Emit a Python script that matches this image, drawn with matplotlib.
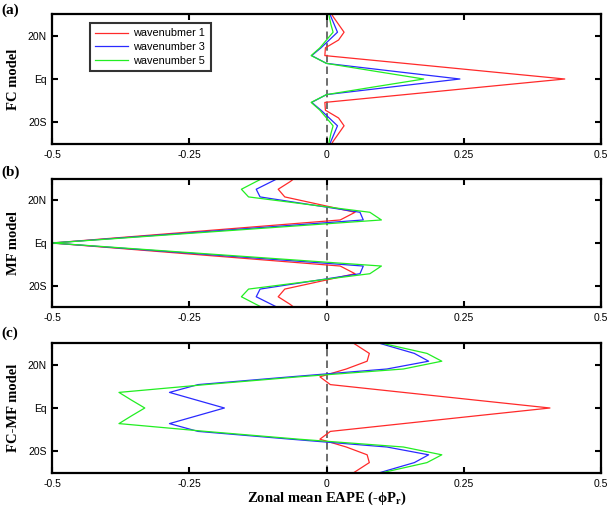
import matplotlib
matplotlib.use("Agg")
import matplotlib.pyplot as plt
import numpy as np

# latitude grid (deg, north positive)
lats = [32.4, 28.8, 25.2, 21.6, 18.0, 14.4, 10.8, 7.2, 3.6, 0.0,
        -3.6, -7.2, -10.8, -14.4, -18.0, -21.6, -25.2, -28.8, -32.4]

series_labels = ["wavenubmer 1", "wavenumber 3", "wavenumber 5"]
series_colors = ["#ff2a2a", "#2a2aff", "#22ee22"]

# (a) FC model
fc_wn1 = [0.004, 0.012, 0.022, 0.032, 0.022, -0.002, -0.003, 0.143, 0.288, 0.434,
          0.288, 0.143, -0.003, -0.002, 0.022, 0.032, 0.022, 0.012, 0.004]
fc_wn3 = [0.003, 0.008, 0.014, 0.020, 0.005, -0.010, -0.027, 0.000, 0.121, 0.243,
          0.121, 0.000, -0.027, -0.010, 0.005, 0.020, 0.014, 0.008, 0.003]
fc_wn5 = [0.002, 0.005, 0.008, 0.012, 0.000, -0.012, -0.028, 0.000, 0.088, 0.177,
          0.088, 0.000, -0.028, -0.012, 0.000, 0.012, 0.008, 0.005, 0.002]

# (b) MF model
mf_wn1 = [-0.048, -0.066, -0.088, -0.076, -0.012, 0.052, 0.025, -0.150, -0.325, -0.500,
          -0.325, -0.150, 0.025, 0.052, -0.012, -0.076, -0.088, -0.066, -0.048]
mf_wn3 = [-0.072, -0.100, -0.128, -0.121, -0.030, 0.061, 0.067, -0.122, -0.311, -0.500,
          -0.311, -0.122, 0.067, 0.061, -0.030, -0.121, -0.128, -0.100, -0.072]
mf_wn5 = [-0.100, -0.128, -0.155, -0.142, -0.032, 0.079, 0.100, -0.100, -0.300, -0.500,
          -0.300, -0.100, 0.100, 0.079, -0.032, -0.142, -0.155, -0.128, -0.100]

# (c) FC-MF model
df_wn1 = [0.034, 0.056, 0.078, 0.074, 0.036, -0.012, 0.007, 0.140, 0.273, 0.407,
          0.273, 0.140, 0.007, -0.012, 0.036, 0.074, 0.078, 0.056, 0.034]
df_wn3 = [0.063, 0.111, 0.160, 0.186, 0.110, -0.065, -0.234, -0.286, -0.236, -0.186,
          -0.236, -0.286, -0.234, -0.065, 0.110, 0.186, 0.160, 0.111, 0.063]
df_wn5 = [0.057, 0.120, 0.183, 0.210, 0.140, -0.050, -0.220, -0.378, -0.355, -0.331,
          -0.355, -0.378, -0.220, -0.050, 0.140, 0.210, 0.183, 0.120, 0.057]

panels = [
    ("(a)", "FC model", [fc_wn1, fc_wn3, fc_wn5]),
    ("(b)", "MF model", [mf_wn1, mf_wn3, mf_wn5]),
    ("(c)", "FC-MF model", [df_wn1, df_wn3, df_wn5]),
]

xticks = [-0.5, -0.25, 0, 0.25, 0.5]
xticklabels = ["-0.5", "-0.25", "0", "0.25", "0.5"]
yticks = [20, 0, -20]
yticklabels = ["20N", "Eq", "20S"]
xlabel = "Zonal mean EAPE (-\u03d5P$_\\mathregular{r}$)"

W, H = 609, 513
fig = plt.figure(figsize=(W / 100, H / 100), dpi=100)

# axes boxes in pixels: (top, bottom)
boxes = [(14, 144), (179, 307), (343, 473)]
left_px, right_px = 52, 601
label_y = [10, 172, 333]

serif = ["Liberation Serif", "DejaVu Serif"]
sans = ["Liberation Sans", "DejaVu Sans"]
tick_fs = 7.5
aw = right_px - left_px

for i, ((plab, ylab, data), (top, bot)) in enumerate(zip(panels, boxes)):
    ah = bot - top
    ax = fig.add_axes([left_px / W, 1 - bot / H, aw / W, ah / H])
    ax.axvline(0, color="#555555", lw=1.2, ls=(0, (4.5, 2.5)), zorder=1)
    for vals, c, lab in zip(data, series_colors, series_labels):
        ax.plot(vals, lats, color=c, lw=0.9, label=lab, zorder=2)
    ax.set_xlim(-0.5, 0.5)
    ax.set_ylim(-30, 30)
    ax.set_xticks(xticks)
    ax.set_xticklabels(xticklabels, family=sans, fontsize=tick_fs)
    ax.set_yticks(yticks)
    ax.set_yticklabels(yticklabels, family=sans, fontsize=tick_fs)
    ax.tick_params(direction="in", length=4, width=1.5, top=True, right=True, pad=4)
    for s in ax.spines.values():
        s.set_linewidth(1.6)
    ax.set_ylabel(ylab, family=serif, fontweight="bold", fontsize=10.5)
    ax.yaxis.label.set_va("center")
    ax.yaxis.set_label_coords((13 - left_px) / aw, 0.5)
    fig.text(1 / W, 1 - label_y[i] / H, plab, family=serif, fontweight="bold",
             fontsize=11, ha="left", va="center")
    if i == 0:
        leg = ax.legend(loc="upper left", bbox_to_anchor=((90 - left_px) / aw,
                        1 - (23 - top) / ah),
                        prop={"family": sans, "size": 7.8}, frameon=True, fancybox=False,
                        borderpad=0.5, handlelength=3.0, handletextpad=0.5, labelspacing=0.35,
                        borderaxespad=0)
        leg.get_frame().set_edgecolor("black")
        leg.get_frame().set_linewidth(1.5)
    if i == 2:
        ax.set_xlabel(xlabel, family=serif, fontweight="bold", fontsize=10.5)
        ax.xaxis.label.set_va("top")
        ax.xaxis.set_label_coords(0.5, -(490 - bot) / ah)

fig.savefig("out.png", dpi=100)
